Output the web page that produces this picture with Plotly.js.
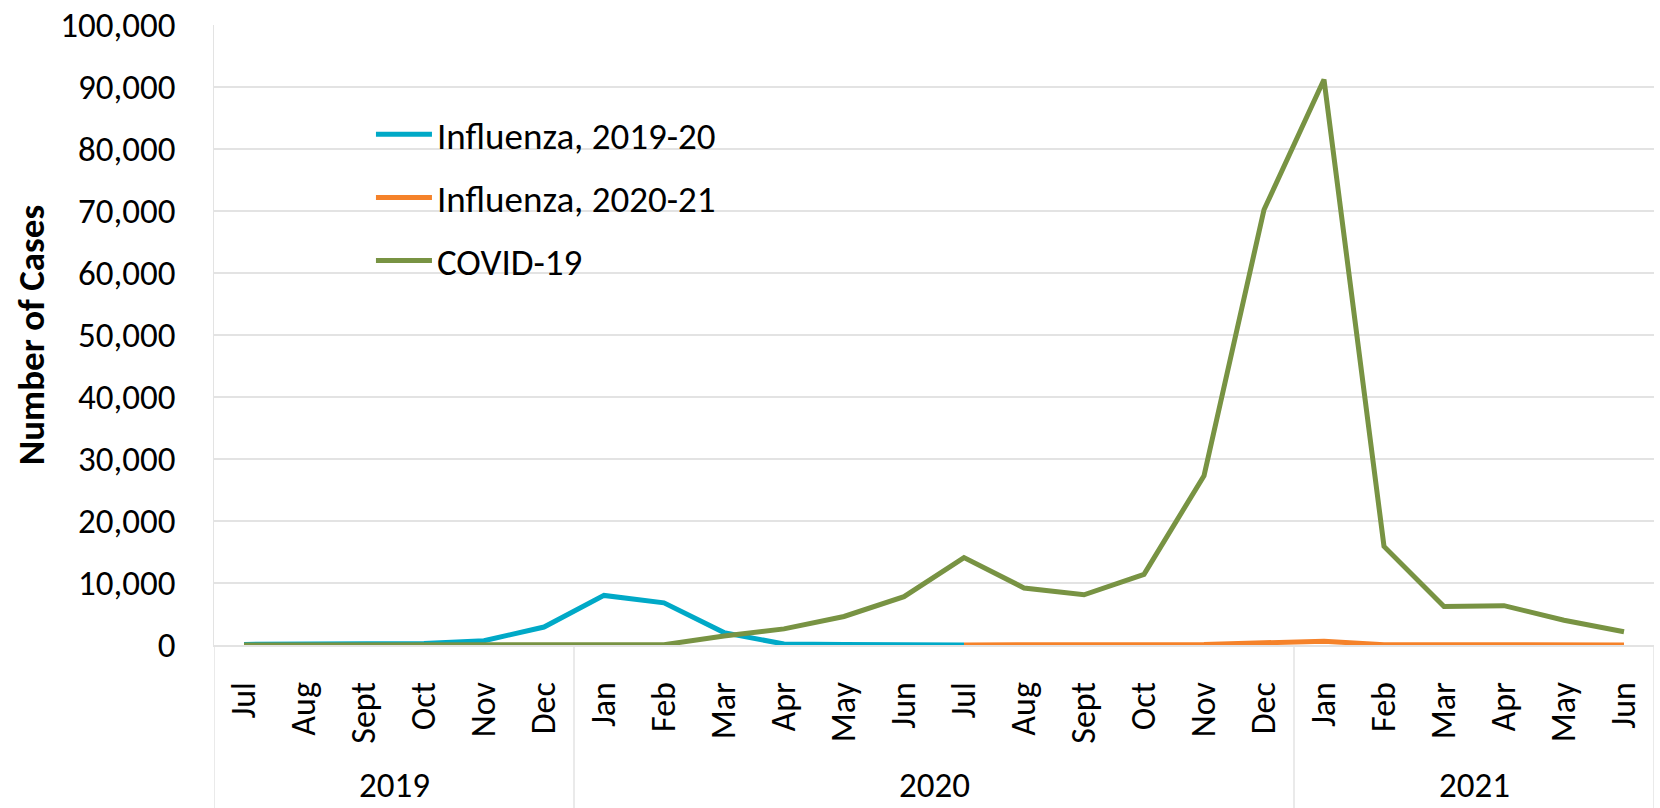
<!DOCTYPE html>
<html><head><meta charset="utf-8">
<script src="https://cdn.plot.ly/plotly-3.0.1.min.js"></script>
<style>html,body{margin:0;padding:0;background:#fff}#chart{width:1660px;height:808px}</style>
</head><body><div id="chart"></div>
<script>
// Category levels
const years  = ['2019','2019','2019','2019','2019','2019',
                '2020','2020','2020','2020','2020','2020','2020','2020','2020','2020','2020','2020',
                '2021','2021','2021','2021','2021','2021'];
const months = ['Jul','Aug','Sept','Oct','Nov','Dec',
                'Jan','Feb','Mar','Apr','May','Jun','Jul','Aug','Sept','Oct','Nov','Dec',
                'Jan','Feb','Mar','Apr','May','Jun'];
// Series values (number of cases)
const flu1920 = [100, 100, 150, 250, 700, 2900, 8000, 6800, 2000, 150, 100, 30, 0];          // Jul 2019 – Jul 2020
const flu2021 = [0, 0, 0, 50, 100, 350, 600, 50, 0, 0, 0, 0];                                 // Jul 2020 – Jun 2021
const covid   = [0, 0, 0, 0, 0, 0, 0, 50, 1450, 2600, 4600, 7800, 14100, 9200, 8100, 11400,
                 27300, 70200, 91200, 15900, 6200, 6350, 4000, 2150];

const FONT = 'Carlito, Lato, sans-serif';
const flu1Start = 0, flu2Start = 12;
const idx = months.map((_, i) => i);

// year groups -> label positions and divider positions
const groups = [];
years.forEach((y, i) => {
  const g = groups[groups.length - 1];
  if (g && g.year === y) g.end = i; else groups.push({year: y, start: i, end: i});
});
const GRID = '#e3e3e3';
const yearY = -0.226, dividerBottom = -0.27;

const traces = [
  {name: 'Influenza, 2019-20', type: 'scatter', mode: 'lines', legendgroup: 'a',
   x: idx.slice(flu1Start, flu1Start + flu1920.length), y: flu1920,
   line: {color: '#00A9C7', width: 5}},
  {name: 'Influenza, 2020-21', type: 'scatter', mode: 'lines', legendgroup: 'b',
   x: idx.slice(flu2Start, flu2Start + flu2021.length), y: flu2021,
   line: {color: '#F5822A', width: 5}},
  {name: 'COVID-19', type: 'scatter', mode: 'lines', legendgroup: 'c',
   x: idx, y: covid, line: {color: '#789343', width: 5}}
];

const shapes = [{type: 'rect', xref: 'paper', yref: 'y', layer: 'between',
                 x0: 0.055, x1: 0.404, y0: 54000, y1: 88000,
                 fillcolor: '#fff', line: {width: 0}}];
const bounds = [groups[0].start - 0.5].concat(groups.map(g => g.end + 0.5));
bounds.forEach(b => shapes.push({type: 'line', xref: 'x', yref: 'paper', layer: 'above',
  x0: b, x1: b, y0: 0, y1: dividerBottom, line: {color: GRID, width: 1.5}}));

const annotations = groups.map(g => ({
  text: g.year, xref: 'x', yref: 'paper', x: (g.start + g.end) / 2, y: yearY,
  xanchor: 'center', yanchor: 'middle', showarrow: false,
  font: {family: FONT, size: 35, color: '#000'}}));

const layout = {
  width: 1660, height: 808,
  margin: {l: 214, r: 6, t: 25, b: 163},
  paper_bgcolor: '#fff', plot_bgcolor: '#fff',
  font: {family: FONT, size: 35, color: '#000'},
  showlegend: true,
  legend: {x: 0.109, y: 0.873, xanchor: 'left', yanchor: 'top',
           bgcolor: 'rgba(0,0,0,0)', borderwidth: 0, itemwidth: 56,
           font: {family: FONT, size: 37, color: '#000'},
           traceorder: 'grouped', tracegroupgap: 12},
  xaxis: {type: 'linear', range: [-0.5, months.length - 0.5],
          tickmode: 'array', tickvals: idx, ticktext: months, tickangle: -90,
          showgrid: false, zeroline: false,
          showline: true, linecolor: GRID, linewidth: 1.5,
          ticks: '', ticklabelstandoff: 22,
          tickfont: {family: FONT, size: 34, color: '#000'}},
  yaxis: {range: [0, 100000], dtick: 10000, tickformat: ',d',
          showgrid: true, gridcolor: GRID, gridwidth: 1.5,
          zeroline: false, showline: true, linecolor: GRID, linewidth: 1.5,
          ticks: '', ticklabelstandoff: 30,
          tickfont: {family: FONT, size: 35, color: '#000'},
          title: {text: '<b>Number of Cases</b>', font: {family: FONT, size: 37, color: '#000'}, standoff: 4}},
  shapes: shapes,
  annotations: annotations
};

Plotly.newPlot('chart', traces, layout, {displayModeBar: false, staticPlot: true});
</script></body></html>
